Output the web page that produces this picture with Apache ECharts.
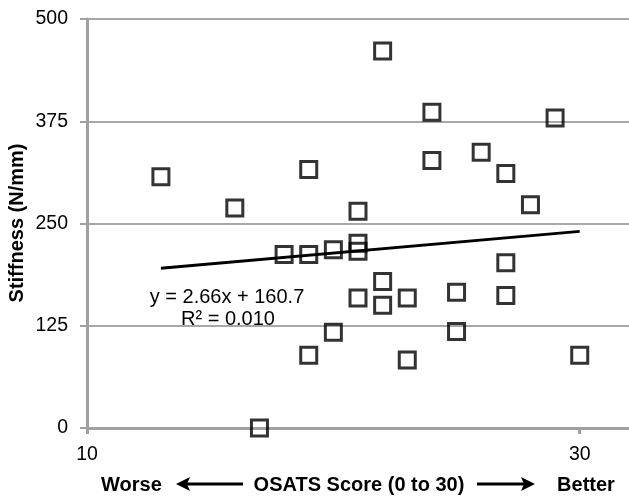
<!DOCTYPE html>
<html>
<head>
<meta charset="utf-8">
<script src="https://cdn.jsdelivr.net/npm/echarts@6/dist/echarts.min.js"></script>
<style>
  html, body { margin: 0; padding: 0; background: #fff; }
  #chart { width: 629px; height: 497px; }
</style>
</head>
<body>
<div id="chart"></div>
<script>
  // OSATS score vs stiffness
  const osats = [13, 16, 17, 18, 19, 19, 19, 20, 20, 21, 21, 21, 21, 22, 22, 22, 23, 23, 24, 24, 25, 25, 26, 27, 27, 27, 28, 29, 30];
  const stiffness = [307, 269, 0, 212, 316, 212, 89, 218, 117, 265, 226, 216, 159, 461, 179, 150, 159, 83, 386, 327, 166, 118, 337, 311, 202, 162, 273, 379, 89];
  // trend line end points
  const trendX = [13, 30];
  const trendY = [195.3, 240.5];
  const xTicks = [10, 30];

  const font = "'Liberation Sans', Arial, sans-serif";
  const chart = echarts.init(document.getElementById("chart"));

  const points = osats.map((x, i) => [x, stiffness[i]]);
  const trend = trendX.map((x, i) => [x, trendY[i]]);

  const option = {
    animation: false,
    backgroundColor: '#fff',
    grid: { left: 87, right: 0, top: 19, bottom: 69 },
    xAxis: {
      type: 'value',
      min: 10,
      max: 32,
      interval: 20,
      axisLine: { lineStyle: { color: '#a0a0a0', width: 3 } },
      axisTick: { show: true, length: 6, customValues: xTicks, lineStyle: { color: '#a0a0a0', width: 3 } },
      axisLabel: { customValues: xTicks, margin: 17, color: '#000', fontSize: 19.5, fontFamily: font },
      splitLine: { show: false }
    },
    yAxis: {
      type: 'value',
      min: 0,
      max: 500,
      interval: 125,
      axisLine: { show: true, lineStyle: { color: '#a0a0a0', width: 3 } },
      axisTick: { show: true, length: 7, lineStyle: { color: '#a0a0a0', width: 2 } },
      axisLabel: { margin: 19, color: '#000', fontSize: 19.5, fontFamily: font },
      splitLine: { lineStyle: { color: '#a8a8a8', width: 2 } }
    },
    series: [
      {
        type: 'line',
        data: trend,
        symbol: 'none',
        lineStyle: { color: '#000', width: 2.8 },
        z: 2
      },
      {
        type: 'scatter',
        data: points,
        symbol: 'rect',
        symbolSize: 16,
        itemStyle: { color: 'none', borderColor: '#000', borderWidth: 3 },
        z: 3
      }
    ],
    graphic: [
      {
        type: 'text', x: 17.5, y: 223, rotation: Math.PI / 2,
        style: {
          text: 'Stiffness (N/mm)', font: 'bold 20px ' + font, fill: '#000',
          align: 'center', verticalAlign: 'middle'
        }
      },
      {
        type: 'text', style: {
          text: 'y = 2.66x + 160.7', font: '20px ' + font, fill: '#000',
          align: 'center', verticalAlign: 'middle', x: 227, y: 297
        }
      },
      {
        type: 'text', style: {
          text: 'R² = 0.010', font: '20px ' + font, fill: '#000',
          align: 'center', verticalAlign: 'middle', x: 228, y: 319
        }
      },
      {
        type: 'text', style: {
          text: 'Worse', font: 'bold 20px ' + font, fill: '#000',
          align: 'left', verticalAlign: 'middle', x: 101, y: 485
        }
      },
      {
        type: 'text', style: {
          text: 'OSATS Score (0 to 30)', font: 'bold 20px ' + font, fill: '#000',
          align: 'center', verticalAlign: 'middle', x: 359, y: 485
        }
      },
      {
        type: 'text', style: {
          text: 'Better', font: 'bold 20px ' + font, fill: '#000',
          align: 'center', verticalAlign: 'middle', x: 586, y: 485
        }
      },
      // arrows
      { type: 'line', shape: { x1: 186, y1: 484, x2: 243, y2: 484 }, style: { stroke: '#000', lineWidth: 3 } },
      { type: 'polygon', shape: { points: [[176, 484], [190, 477], [187, 484], [190, 491]] }, style: { fill: '#000' } },
      { type: 'line', shape: { x1: 477, y1: 484, x2: 526, y2: 484 }, style: { stroke: '#000', lineWidth: 3 } },
      { type: 'polygon', shape: { points: [[535, 484], [521, 477], [524, 484], [521, 491]] }, style: { fill: '#000' } }
    ]
  };

  chart.setOption(option);
</script>
</body>
</html>
